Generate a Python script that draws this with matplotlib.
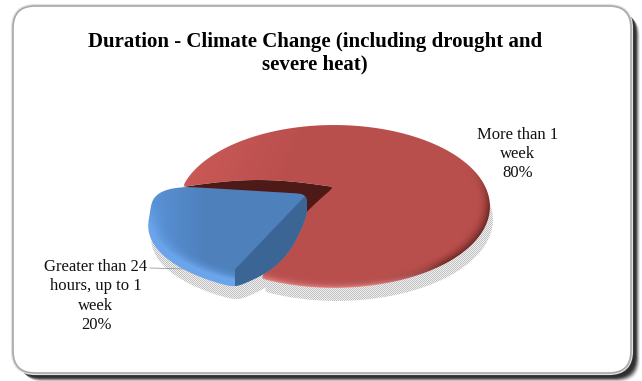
import numpy as np
import matplotlib
matplotlib.use("Agg")
import matplotlib.pyplot as plt
from matplotlib.patches import FancyBboxPatch, Polygon

plt.rcParams["font.family"] = ["Liberation Serif", "DejaVu Serif"]

#%% Data
title = "Duration - Climate Change (including drought and\nsevere heat)"
labels = ["Greater than 24\nhours, up to 1\nweek", "More than 1\nweek"]
values = [20, 80]

#%% Geometry of the 3D look (pixels)
W, H = 642, 381
cx, cy = 334, 187      # centre of the red disk
a, b, k = 151.5, 76.8, 0.239   # perspective of the disk
bx, by = 307, 194      # exploded slice apex
b_blue = 63.0
thick = 18
start = 180.0

shares = np.array(values) / np.sum(values)
sweep = shares[0] * 360.0
stop = start - sweep   # goes through the viewer side, y is down


def rim(apex_x, apex_y, bb, t, skew=0.0, lift=0.0):
    X, Y = np.cos(np.radians(t)), np.sin(np.radians(t))
    w = 1 - k * Y
    px = a * X / w + skew * Y
    py = bb * Y / w + lift * X
    return np.column_stack((apex_x + px, apex_y + py))


def edge(p0, p1, bulge, n=30):
    s = np.linspace(0, 1, n)[:, None]
    pts = p0 + (p1 - p0) * s
    d = p1 - p0
    nrm = np.array([-d[1], d[0]]) / np.hypot(*d)
    return pts + nrm * bulge * np.sin(np.pi * s)


def smooth(poly, n=9, passes=2):
    kernel = np.ones(n) / n
    out = poly.copy()
    for _ in range(passes):
        wrap = np.vstack((out[-n:], out, out[:n]))
        out = np.column_stack([np.convolve(wrap[:, i], kernel, mode="same")[n:-n] for i in (0, 1)])
    return out


def resample(poly, step=1.5):
    closed = np.vstack((poly, poly[:1]))
    dist = np.r_[0, np.cumsum(np.hypot(*np.diff(closed, axis=0).T))]
    s = np.arange(0, dist[-1], step)
    return np.column_stack((np.interp(s, dist, closed[:, 0]), np.interp(s, dist, closed[:, 1])))


#%% Outlines
apex = np.array([cx, cy], float)
red_t = np.linspace(stop + 4, start - 360, 300)
red_rim = rim(cx, cy, b, red_t)
red_upper = edge(red_rim[-1], apex, -7)
red_lower = edge(apex, red_rim[0], 7)
red_poly = smooth(resample(np.vstack((red_rim, red_upper, red_lower))), n=5)

bapex = np.array([bx, by], float)
blue_t = np.linspace(start, stop, 120)
blue_rim = rim(bx, by, b_blue, blue_t, skew=-12, lift=7)
corner = blue_rim[0] + [-5, 0]
s = np.linspace(0, 1, 25)[:, None]
p0, p2 = corner + [40, 0], corner + [0, 20]
blue_corner = (1 - s) ** 2 * p0 + 2 * s * (1 - s) * corner + s ** 2 * p2
blue_upper = edge(bapex, p0, 0, 20)
blue_down = blue_rim + [0, thick]
blue_down = blue_down[blue_down[:, 1] > p2[1] + 6]
blue_low = edge(blue_down[-1], bapex + [0, thick + 3], 14)
blue_poly = smooth(resample(np.vstack((blue_upper, blue_corner, blue_down, blue_low))), n=9)
side_poly = np.vstack((edge(bapex, blue_rim[-1], 0, 20), blue_down[-1:], blue_low, bapex[None] + [0, thick + 3]))
# dark cut wall behind the slice, pushed under the blue so no gap shows at its tip
wall_poly = np.vstack((red_upper[::-1], red_rim[-1:], bapex[None] + [-14, 8], bapex[None] + [0, thick + 3]))

#%% Figure
fig = plt.figure(figsize=(W / 100, H / 100), dpi=100)
ax = fig.add_axes([0, 0, 1, 1])
ax.set_xlim(0, W)
ax.set_ylim(H, 0)
ax.axis("off")

# frame with its heavy drop shadow
for off, alpha in zip(range(9, 0, -1), [0.1, 0.2, 0.35, 0.55, 0.75, 0.85, 0.85, 0.8, 0.7]):
    ax.add_patch(FancyBboxPatch((13 + off, 6 + off), 618, 367, boxstyle="round,pad=0,rounding_size=22",
                                fc="#2e2e2e", ec="none", alpha=alpha, zorder=1))
ax.add_patch(FancyBboxPatch((13, 6), 618, 367, boxstyle="round,pad=0,rounding_size=22",
                            fc="white", ec="#e2e2e2", lw=3.0, zorder=2))
ax.add_patch(FancyBboxPatch((13, 6), 618, 367, boxstyle="round,pad=0,rounding_size=22",
                            fc="white", ec="#a8a8a8", lw=1.2, zorder=2))

yy, xx = np.mgrid[0:H, 0:W]
px, py = xx + 0.5, yy + 0.5

# dithered shadow of the pie
checker = np.where((xx + yy) % 2 == 0, 0.75, 0.94)
for poly in (red_poly, blue_poly):
    im = ax.imshow(checker, cmap="gray", vmin=0, vmax=1, extent=(0, W, H, 0), aspect="auto",
                   interpolation="nearest", zorder=3)
    im.set_clip_path(Polygon(poly + [3, 13], transform=ax.transData))

ax.add_patch(Polygon(wall_poly, fc="#4E1A18", ec="none", zorder=4))


def mix(img, col, w):
    return img * (1 - w[..., None]) + np.array(matplotlib.colors.to_rgb(col)) * w[..., None]


def disk_coords(ax0, ay0, bb):
    u, v = (px - ax0) / a, (py - ay0) / bb
    Y = v / (1 + k * v)
    X = u * (1 - k * Y)
    return X, Y


# red face
X, Y = disk_coords(cx, cy, b)
r, phi = np.hypot(X, Y), np.arctan2(Y, X)
grad = np.clip((px - 190 + (py - 130) * 0.4) / 300, 0, 1)
red = mix(np.ones((H, W, 3)) * np.array(matplotlib.colors.to_rgb("#CC5A58")),
          "#B94F4D", np.clip(grad * 2.6, 0, 1))
rimw = np.clip((r - 0.92) / 0.08, 0, 1) ** 2 * np.clip(Y * 2 + 0.5, 0, 1)
dark = np.clip(np.cos(phi - np.radians(35)) + 0.25, 0, 1)
light = np.clip(np.cos(phi - np.radians(120)) * 3 - 1.2, 0, 1)
red = mix(red, "#6B2422", rimw * dark)
red = mix(red, "#EC8583", rimw * light)
im = ax.imshow(red, extent=(0, W, H, 0), aspect="auto", interpolation="bilinear", zorder=5)
im.set_clip_path(Polygon(red_poly, transform=ax.transData))

# blue slice
X, Y = disk_coords(bx, by + thick * 0.6, b_blue)
r = np.hypot(X, Y)
blue = mix(np.ones((H, W, 3)) * np.array(matplotlib.colors.to_rgb("#5A93D8")),
           "#4E80BC", np.clip((px - 150) / 55, 0, 1))
blue = mix(blue, "#6AA4EA", np.clip((r - 0.9) / 0.1, 0, 1) ** 2 * np.clip(Y * 3, 0, 1))
im = ax.imshow(blue, extent=(0, W, H, 0), aspect="auto", interpolation="bilinear", zorder=6)
im.set_clip_path(Polygon(blue_poly, transform=ax.transData))
side = Polygon(side_poly, fc="#3A6595", ec="none", zorder=7)
ax.add_patch(side)
side.set_clip_path(Polygon(blue_poly, transform=ax.transData))

# texts
ax.text(315, 53, title, ha="center", va="center", fontsize=15, fontweight="bold",
        linespacing=1.2, color="black", zorder=9)
pct = [f"{round(s * 100)}%" for s in shares]
ax.text(96, 296, f"{labels[0]}\n{pct[0]}", ha="center", va="center", fontsize=12,
        linespacing=1.27, color="#111111", zorder=9)
ax.text(518, 154, f"{labels[1]}\n{pct[1]}", ha="center", va="center", fontsize=12,
        linespacing=1.27, color="#111111", zorder=9)
ax.plot([150, 187], [268, 269], color="#999999", lw=0.6, zorder=4)

fig.savefig("out.png", dpi=100)
